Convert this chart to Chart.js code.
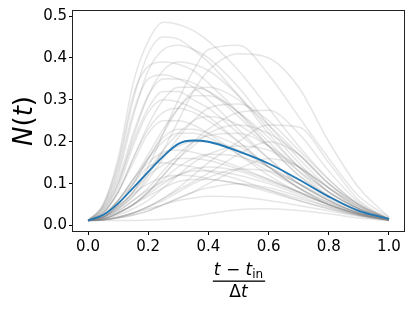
<!DOCTYPE html>
<html>
<head>
<meta charset="utf-8">
<script src="https://cdn.jsdelivr.net/npm/chart.js@4"></script>
<style>
  body { margin: 0; background: #fff; }
  canvas { display: block; }
</style>
</head>
<body>
<canvas id="myChart" width="415" height="311"></canvas>
<script>
// sample positions along (t - t_in) / dt
const xValues = [0, 0.05, 0.1, 0.15, 0.2, 0.25, 0.3, 0.35, 0.4, 0.5, 0.6, 0.7, 0.8, 0.9, 1.0];

// blue average curve
const meanCurve = [0.012, 0.025, 0.053, 0.09, 0.128, 0.165, 0.195, 0.203, 0.2, 0.177, 0.148, 0.11, 0.069, 0.035, 0.016];

// individual runs (grey)
const runCurves = [
    [0.012, 0.05, 0.16, 0.34, 0.44, 0.485, 0.48, 0.465, 0.44, 0.37, 0.28, 0.19, 0.11, 0.05, 0.015],
    [0.012, 0.045, 0.14, 0.3, 0.41, 0.45, 0.445, 0.42, 0.39, 0.31, 0.22, 0.14, 0.08, 0.04, 0.015],
    [0.012, 0.04, 0.12, 0.26, 0.37, 0.42, 0.43, 0.42, 0.4, 0.33, 0.24, 0.16, 0.09, 0.04, 0.015],
    [0.012, 0.05, 0.15, 0.31, 0.38, 0.39, 0.385, 0.37, 0.34, 0.27, 0.19, 0.12, 0.07, 0.035, 0.014],
    [0.012, 0.035, 0.1, 0.21, 0.31, 0.37, 0.39, 0.385, 0.37, 0.31, 0.23, 0.15, 0.08, 0.04, 0.015],
    [0.012, 0.045, 0.13, 0.27, 0.35, 0.36, 0.35, 0.33, 0.3, 0.23, 0.16, 0.1, 0.06, 0.03, 0.014],
    [0.012, 0.04, 0.11, 0.22, 0.31, 0.35, 0.35, 0.34, 0.32, 0.26, 0.19, 0.12, 0.07, 0.035, 0.014],
    [0.012, 0.035, 0.1, 0.2, 0.28, 0.32, 0.32, 0.3, 0.28, 0.22, 0.16, 0.1, 0.06, 0.03, 0.014],
    [0.012, 0.03, 0.09, 0.19, 0.27, 0.3, 0.295, 0.28, 0.26, 0.2, 0.14, 0.09, 0.05, 0.028, 0.013],
    [0.012, 0.03, 0.08, 0.16, 0.23, 0.27, 0.28, 0.27, 0.25, 0.2, 0.14, 0.09, 0.05, 0.027, 0.013],
    [0.012, 0.03, 0.08, 0.15, 0.22, 0.25, 0.25, 0.24, 0.22, 0.17, 0.12, 0.08, 0.05, 0.026, 0.013],
    [0.012, 0.025, 0.06, 0.11, 0.16, 0.2, 0.22, 0.22, 0.21, 0.17, 0.13, 0.09, 0.055, 0.03, 0.014],
    [0.012, 0.02, 0.04, 0.08, 0.14, 0.22, 0.3, 0.37, 0.42, 0.43, 0.36, 0.26, 0.16, 0.07, 0.02],
    [0.012, 0.02, 0.04, 0.07, 0.12, 0.18, 0.25, 0.32, 0.37, 0.41, 0.4, 0.33, 0.2, 0.09, 0.02],
    [0.012, 0.02, 0.05, 0.1, 0.16, 0.22, 0.28, 0.32, 0.33, 0.3, 0.24, 0.17, 0.1, 0.05, 0.015],
    [0.012, 0.025, 0.06, 0.11, 0.17, 0.23, 0.28, 0.31, 0.31, 0.27, 0.21, 0.14, 0.08, 0.04, 0.015],
    [0.012, 0.02, 0.04, 0.07, 0.11, 0.16, 0.21, 0.25, 0.28, 0.29, 0.25, 0.18, 0.11, 0.05, 0.015],
    [0.012, 0.02, 0.045, 0.08, 0.13, 0.18, 0.22, 0.25, 0.26, 0.24, 0.19, 0.13, 0.08, 0.04, 0.015],
    [0.012, 0.015, 0.03, 0.05, 0.08, 0.12, 0.16, 0.19, 0.22, 0.24, 0.22, 0.17, 0.1, 0.05, 0.015],
    [0.012, 0.018, 0.035, 0.06, 0.09, 0.13, 0.17, 0.2, 0.215, 0.22, 0.19, 0.14, 0.09, 0.045, 0.015],
    [0.012, 0.02, 0.05, 0.09, 0.13, 0.17, 0.19, 0.2, 0.2, 0.18, 0.14, 0.1, 0.06, 0.03, 0.014],
    [0.012, 0.015, 0.025, 0.04, 0.06, 0.09, 0.12, 0.15, 0.17, 0.19, 0.18, 0.14, 0.09, 0.045, 0.015],
    [0.012, 0.025, 0.06, 0.11, 0.15, 0.175, 0.18, 0.175, 0.165, 0.14, 0.11, 0.08, 0.05, 0.027, 0.013],
    [0.012, 0.02, 0.045, 0.08, 0.12, 0.145, 0.16, 0.16, 0.155, 0.135, 0.11, 0.08, 0.05, 0.027, 0.013],
    [0.012, 0.025, 0.06, 0.1, 0.14, 0.15, 0.145, 0.14, 0.13, 0.11, 0.085, 0.06, 0.04, 0.024, 0.013],
    [0.012, 0.018, 0.035, 0.06, 0.085, 0.105, 0.12, 0.13, 0.13, 0.12, 0.1, 0.075, 0.05, 0.028, 0.013],
    [0.012, 0.02, 0.045, 0.075, 0.1, 0.115, 0.12, 0.118, 0.112, 0.1, 0.08, 0.06, 0.04, 0.024, 0.013],
    [0.012, 0.015, 0.03, 0.05, 0.075, 0.1, 0.12, 0.135, 0.14, 0.13, 0.105, 0.08, 0.05, 0.028, 0.013],
    [0.012, 0.016, 0.03, 0.05, 0.07, 0.09, 0.105, 0.11, 0.11, 0.1, 0.085, 0.065, 0.045, 0.026, 0.013],
    [0.012, 0.015, 0.03, 0.05, 0.08, 0.11, 0.14, 0.16, 0.17, 0.165, 0.14, 0.1, 0.06, 0.03, 0.014],
    [0.012, 0.014, 0.02, 0.03, 0.045, 0.065, 0.09, 0.12, 0.15, 0.2, 0.24, 0.235, 0.15, 0.06, 0.016],
    [0.012, 0.014, 0.02, 0.03, 0.045, 0.065, 0.085, 0.105, 0.125, 0.17, 0.2, 0.17, 0.1, 0.045, 0.015],
    [0.012, 0.013, 0.018, 0.025, 0.035, 0.05, 0.065, 0.08, 0.1, 0.135, 0.16, 0.14, 0.09, 0.04, 0.015],
    [0.012, 0.014, 0.02, 0.03, 0.045, 0.06, 0.08, 0.1, 0.115, 0.135, 0.13, 0.1, 0.065, 0.033, 0.014],
    [0.012, 0.012, 0.012, 0.012, 0.013, 0.015, 0.018, 0.022, 0.028, 0.038, 0.04, 0.036, 0.028, 0.018, 0.012],
    [0.012, 0.013, 0.018, 0.025, 0.035, 0.05, 0.065, 0.08, 0.09, 0.1, 0.09, 0.07, 0.045, 0.025, 0.013],
    [0.012, 0.014, 0.02, 0.03, 0.04, 0.05, 0.06, 0.066, 0.07, 0.068, 0.06, 0.048, 0.035, 0.022, 0.012],
    [0.012, 0.02, 0.05, 0.1, 0.16, 0.21, 0.23, 0.23, 0.22, 0.19, 0.14, 0.09, 0.055, 0.03, 0.014],
    [0.012, 0.03, 0.08, 0.16, 0.24, 0.3, 0.33, 0.33, 0.32, 0.27, 0.2, 0.13, 0.07, 0.035, 0.014],
    [0.012, 0.016, 0.03, 0.05, 0.08, 0.12, 0.16, 0.2, 0.23, 0.27, 0.275, 0.22, 0.13, 0.055, 0.016]
];

const xTickValues = [0, 0.2, 0.4, 0.6, 0.8, 1.0];
const yTickValues = [0, 0.1, 0.2, 0.3, 0.4, 0.5];

function toPoints(curve) {
    return xValues.map((x, i) => ({ x: x, y: curve[i] }));
}

var datasets = [{
    data: toPoints(meanCurve),
    borderColor: '#1f77b4',
    borderWidth: 1.8
}];
runCurves.forEach(function (c) {
    datasets.push({
        data: toPoints(c),
        borderColor: 'rgba(128, 128, 128, 0.2)',
        borderWidth: 1.5
    });
});

// frame + axis labels, drawn like matplotlib
const framePlugin = {
    id: 'frame',
    afterDraw(chart) {
        var ctx = chart.ctx;
        var a = chart.chartArea;
        ctx.save();
        ctx.strokeStyle = '#222';
        ctx.lineWidth = 1;
        ctx.strokeRect(Math.round(a.left) - 0.5, Math.round(a.top) - 0.5,
            Math.round(a.right - a.left) + 1, Math.round(a.bottom - a.top) + 1);

        // x label: (t - t_in) / Δt
        var cx = (a.left + a.right) / 2;
        var it = 'italic 17px "DejaVu Sans"';
        var up = '17px "DejaVu Sans"';
        var sub = '12px "DejaVu Sans"';
        var parts = [
            { s: 't', f: it, dy: 0 },
            { s: ' \u2212 ', f: up, dy: 0 },
            { s: 't', f: it, dy: 0 },
            { s: 'in', f: sub, dy: 3 }
        ];
        var w = 0;
        parts.forEach(function (p) { ctx.font = p.f; p.w = ctx.measureText(p.s).width; w += p.w; });
        var x = cx - w / 2;
        ctx.fillStyle = '#000';
        ctx.textBaseline = 'alphabetic';
        ctx.textAlign = 'left';
        parts.forEach(function (p) { ctx.font = p.f; ctx.fillText(p.s, x, 275 + p.dy); x += p.w; });
        ctx.fillRect(cx - w / 2 - 1, 280.5, w + 3, 1.3);
        var den = [{ s: '\u0394', f: up }, { s: 't', f: it }];
        w = 0;
        den.forEach(function (p) { ctx.font = p.f; p.w = ctx.measureText(p.s).width; w += p.w; });
        x = cx - w / 2;
        den.forEach(function (p) { ctx.font = p.f; ctx.fillText(p.s, x, 297); x += p.w; });

        // y label: N(t)
        ctx.translate(32, (a.top + a.bottom) / 2);
        ctx.rotate(-Math.PI / 2);
        var yl = [
            { s: 'N', f: 'italic 26px "DejaVu Sans"' },
            { s: '(', f: '26px "DejaVu Sans"' },
            { s: 't', f: 'italic 26px "DejaVu Sans"' },
            { s: ')', f: '26px "DejaVu Sans"' }
        ];
        w = 0;
        yl.forEach(function (p) { ctx.font = p.f; p.w = ctx.measureText(p.s).width; w += p.w; });
        x = -w / 2;
        yl.forEach(function (p) { ctx.font = p.f; ctx.fillText(p.s, x, 0); x += p.w; });
        ctx.restore();
    }
};

var ctx = document.getElementById('myChart').getContext('2d');
var myChart = new Chart(ctx, {
    type: 'line',
    data: { datasets: datasets },
    options: {
        responsive: false,
        animation: false,
        layout: { padding: { left: 0, top: 11, right: 11, bottom: 0 } },
        elements: {
            point: { radius: 0 },
            line: { cubicInterpolationMode: 'monotone', fill: false }
        },
        plugins: {
            legend: { display: false },
            tooltip: { enabled: false }
        },
        scales: {
            x: {
                type: 'linear',
                position: 'bottom',
                min: -0.05,
                max: 1.05,
                afterBuildTicks: function (s) { s.ticks = xTickValues.map(v => ({ value: v })); },
                afterFit: function (s) { s.height = 80; },
                grid: { drawOnChartArea: false, drawTicks: true, tickLength: 4, tickColor: '#000', tickWidth: 1 },
                border: { display: false },
                ticks: {
                    color: '#000',
                    padding: 3,
                    maxRotation: 0,
                    font: { family: 'DejaVu Sans', size: 15 },
                    callback: v => v.toFixed(1)
                }
            },
            y: {
                type: 'linear',
                position: 'left',
                min: -0.013,
                max: 0.512,
                afterBuildTicks: function (s) { s.ticks = yTickValues.map(v => ({ value: v })); },
                afterFit: function (s) { s.width = 73; },
                grid: { drawOnChartArea: false, drawTicks: true, tickLength: 4, tickColor: '#000', tickWidth: 1 },
                border: { display: false },
                ticks: {
                    color: '#000',
                    padding: 2,
                    font: { family: 'DejaVu Sans', size: 15 },
                    callback: v => v.toFixed(1)
                }
            }
        }
    },
    plugins: [framePlugin]
});
</script>
</body>
</html>
